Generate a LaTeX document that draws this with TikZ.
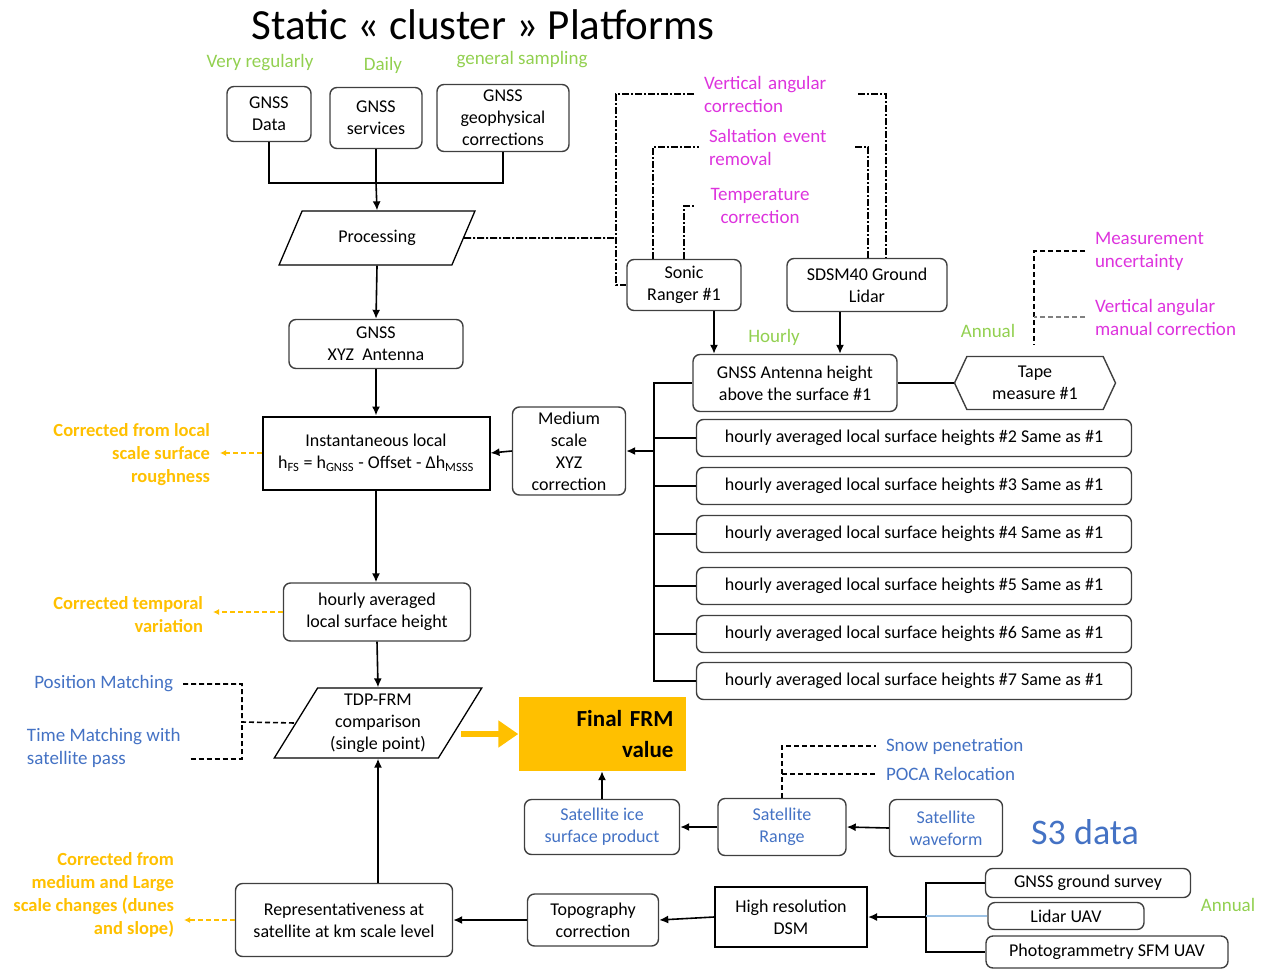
\documentclass[tikz,border=0pt]{standalone}
\usepackage{fontspec}
\setmainfont{Carlito}
\usepackage{xcolor}
\usepackage{tikz}
\usetikzlibrary{positioning,shapes.geometric,shapes.symbols,arrows.meta}
\definecolor{greenish}{HTML}{92D050}
\definecolor{pinkish}{HTML}{DD33DD}
\definecolor{bluish}{HTML}{4472C4}
\definecolor{orangish}{HTML}{FFC000}
\definecolor{greyish}{HTML}{3F3F3F}
\definecolor{lightbluish}{HTML}{9DC3E6}

\begin{document}
\begin{tikzpicture}[
   x=1pt, y=-1pt,
   >={Latex[length=9pt,width=8pt]},
   every node/.append style={align=center, font=\fontsize{18}{22}\selectfont},
   box/.style={draw=greyish, line width=1.4pt, rounded corners=7pt, inner sep=1pt},
   plainbox/.style={draw=black, line width=2pt, inner sep=1pt},
   slant/.style={draw=black, line width=1.3pt, trapezium, trapezium stretches=true, inner sep=1pt},
   hexa/.style={draw=greyish, line width=1.4pt, signal, signal to=east and west, signal pointer angle=130},
   link/.style={line width=1.6pt},
   dashdot/.style={line width=1.6pt, dash pattern=on 7pt off 2pt on 2pt off 2pt},
   dashline/.style={line width=1.6pt, dash pattern=on 5pt off 3pt},
   warn/.style={-{Latex[length=6pt,width=6pt]}},
   freq/.style={text=greenish, font=\fontsize{19}{23}\selectfont},
   corr/.style={text=pinkish, font=\fontsize{19}{23}\selectfont, align=left, inner xsep=4pt, outer xsep=6pt},
   match/.style={text=bluish, font=\fontsize{19}{23}\selectfont, align=left, inner xsep=4pt, outer xsep=6pt},
   fixnote/.style={text=orangish, font=\bfseries\fontsize{18.5}{23}\selectfont, align=right, inner xsep=4pt, outer xsep=6pt}
]
\useasboundingbox (0,0) rectangle (1265,969);

\node[font=\fontsize{43}{50}\selectfont, inner sep=0pt] (title) at (483,25) {Static « cluster » Platforms};

\node[freq] (vreg) at (260,63) {Very regularly};
\node[freq] (daily) at (383,65) {Daily};
\node[freq] (gsamp) at (522,60) {general sampling};

\node[box, minimum width=84pt, minimum height=55pt] (gdata) at (269,114) {GNSS\\Data};
\node[box, minimum width=92pt, minimum height=61pt] (gserv) at (376,118) {GNSS\\services};
\node[box, minimum width=132pt, minimum height=67pt] (gcorr) at (503,118) {GNSS\\geophysical\\corrections};
\coordinate (topjoin) at (376,183);

\node[slant, trapezium left angle=55, trapezium right angle=125, minimum width=196pt, minimum height=54pt] (proc) at (377,238) {Processing};
\node[box, minimum width=174pt, minimum height=49pt] (xyz) at (376,344) {GNSS\\XYZ~ Antenna};
\node[plainbox, minimum width=227pt, minimum height=73pt] (inst) at (376,453)
  {Instantaneous local\\h\textsubscript{FS} = h\textsubscript{GNSS} - Offset - Δh\textsubscript{MSSS}};
\node[box, minimum width=113pt, minimum height=88pt] (medium) at (569,451) {Medium\\scale\\XYZ\\correction};
\node[box, minimum width=187pt, minimum height=58pt] (hourly) at (377,612) {hourly averaged\\local surface height};
\node[slant, trapezium left angle=60, trapezium right angle=120, minimum width=208pt, minimum height=70pt] (tdp) at (378,723)
  {TDP-FRM\\comparison\\(single point)};
\node[fill=orangish, minimum width=167pt, minimum height=74pt, inner xsep=12pt, text width=143pt, align=right,
  font=\bfseries\fontsize{23}{31}\selectfont] (final) at (602,734) {Final FRM\\value};

\node[fixnote, anchor=east] (cfl) at (220,455) {Corrected from local\\scale surface\\roughness};
\node[fixnote, anchor=east] (ctv) at (213,615) {Corrected temporal\\variation};
\node[fixnote, anchor=east] (cfm) at (184,895) {Corrected from\\medium and Large\\scale changes (dunes\\and slope)};

\node[match, anchor=east] (pm) at (183,684) {Position Matching};
\node[match, anchor=west] (tms) at (17,748) {Time Matching with\\satellite pass};
\coordinate (matchbar) at (242,722);

\node[box, minimum width=114pt, minimum height=51pt] (sonic) at (684,285) {Sonic\\Ranger \#1};
\node[box, minimum width=160pt, minimum height=53pt] (sdsm) at (867,285) {SDSM40 Ground\\Lidar};
\node[corr, anchor=west, text width=144pt] (vac) at (694,94) {Vertical angular\\correction};
\node[corr, anchor=west, text width=136pt] (ser) at (699,147) {Saltation event\\removal};
\node[corr, text width=112pt, align=center] (tc) at (760,206) {Temperature\\correction};
\coordinate (procbar) at (616,238);

\node[freq] (hly) at (774,337) {Hourly};
\node[freq] (ann) at (988,331) {Annual};
\node[box, minimum width=204pt, minimum height=57pt] (ant) at (795,383) {GNSS Antenna height\\above the surface \#1};
\node[hexa, minimum width=161pt, minimum height=53pt] (tape) at (1035,383) {Tape\\measure \#1};
\node[corr, anchor=west] (mu) at (1085,251) {Measurement\\uncertainty};
\node[corr, anchor=west] (vam) at (1085,317) {Vertical angular\\manual correction};
\coordinate (tapemark) at (1034,345);

\node[box, minimum width=435pt, minimum height=37pt] (h2) at (914,438) {hourly averaged local surface heights \#2 Same as \#1};
\node[box, minimum width=435pt, minimum height=37pt] (h3) at (914,486) {hourly averaged local surface heights \#3 Same as \#1};
\node[box, minimum width=435pt, minimum height=37pt] (h4) at (914,534) {hourly averaged local surface heights \#4 Same as \#1};
\node[box, minimum width=435pt, minimum height=37pt] (h5) at (914,586) {hourly averaged local surface heights \#5 Same as \#1};
\node[box, minimum width=435pt, minimum height=37pt] (h6) at (914,634) {hourly averaged local surface heights \#6 Same as \#1};
\node[box, minimum width=435pt, minimum height=37pt] (h7) at (914,681) {hourly averaged local surface heights \#7 Same as \#1};
\coordinate (trunk) at (654,681);

\node[box, text=bluish, minimum width=155pt, minimum height=55pt] (sice) at (602,827) {Satellite ice\\surface product};
\node[box, text=bluish, minimum width=128pt, minimum height=57pt] (srange) at (782,827) {Satellite\\Range};
\node[box, text=bluish, minimum width=113pt, minimum height=57pt] (swave) at (946,828) {Satellite\\waveform};
\node[text=bluish, font=\fontsize{36}{40}\selectfont] (s3) at (1085,832) {S3 data};
\node[match, anchor=west] (snow) at (876,746) {Snow penetration};
\node[match, anchor=west] (poca) at (876,774) {POCA Relocation};

\node[box, minimum width=217pt, minimum height=73pt] (repr) at (344,920) {Representativeness at\\satellite at km scale level};
\node[box, minimum width=131pt, minimum height=52pt] (topo) at (593,920) {Topography\\correction};
\node[plainbox, minimum width=152pt, minimum height=60pt] (dsm) at (791,917) {High resolution\\DSM};
\node[box, minimum width=205pt, minimum height=29pt] (gsurvey) at (1088,883) {GNSS ground survey};
\node[box, minimum width=156pt, minimum height=27pt] (lidar) at (1066,916) {Lidar UAV};
\node[box, minimum width=242pt, minimum height=32pt] (photo) at (1107,952) {Photogrammetry SFM UAV};
\node[freq] (ann2) at (1228,905) {Annual};
\coordinate (dsmbar) at (926,917);

\draw[link] (gdata.south) |- (topjoin) -| (gcorr.south);
\draw[link] (gserv.south) -- (topjoin);
\draw[link,->] (topjoin) -- (proc.north);
\draw[link,->] (proc.south) -- (xyz.north);
\draw[link,->] (xyz.south) -- (inst.north);
\draw[link,->] (medium.west) -- (inst.east);
\draw[link,->] (inst.south) -- (inst.south |- hourly.north);
\draw[link,->] (hourly.south) -- (tdp.north);
\draw[link,->] (tdp.south |- repr.north) -- (tdp.south);
\draw[orangish, line width=6pt, -{Triangle[length=20pt,width=26pt]}] (tdp.east |- final.west) -- (final.west);
\draw[link,->] (sice.north) -- (final.south);
\draw[link,->] (srange.west) -- (sice.east);
\draw[link,->] (swave.west) -- (srange.east);
\draw[link,->] (topo.west) -- (repr.east);
\draw[link,->] (dsm.west) -- (topo.east);
\draw[link] (gsurvey.west) -| (dsmbar) |- (photo.west);
\draw[lightbluish, line width=1.6pt] (lidar.west) -- (lidar.west -| dsmbar);
\draw[link,->] (dsmbar) -- (dsm.east);

\draw[link,->] ([xshift=30pt]sonic.south) -- ([xshift=-81pt]ant.north);
\draw[link,->] ([xshift=-27pt]sdsm.south) -- ([xshift=45pt]ant.north);
\draw[link] (ant.east) -- (tape.west);
\draw[link] (ant.west) -| (trunk) -- (h7.west);
\draw[link] (h2.west) -- (h2.west -| trunk);
\draw[link] (h3.west) -- (h3.west -| trunk);
\draw[link] (h4.west) -- (h4.west -| trunk);
\draw[link] (h5.west) -- (h5.west -| trunk);
\draw[link] (h6.west) -- (h6.west -| trunk);
\draw[link,->] (medium.east -| trunk) -- (medium.east);

\draw[dashdot] (proc.east) -- (procbar);
\draw[dashdot] (vac.west) -| (procbar) |- (sonic.west);
\draw[dashdot] (vac.east) -| ([xshift=19pt]sdsm.north);
\draw[dashdot] ([xshift=-31pt]sonic.north) |- (ser.west);
\draw[dashdot] (ser.east) -| ([xshift=1pt]sdsm.north);
\draw[dashdot] (sonic.north) |- (tc.west);

\draw[dashline] (mu.west) -| (tapemark);
\draw[dashline, gray] (vam.west) -- (vam.west -| tapemark);

\draw[dashline] (pm.east) -| (matchbar) -- (tdp.west);
\draw[dashline] ([yshift=-11pt]tms.east) -| (matchbar);

\draw[dashline] (srange.north) |- (snow.west);
\draw[dashline] (srange.north) |- (poca.west);

\draw[dashline, orangish, warn] (inst.west) -- (inst.west -| cfl.east);
\draw[dashline, orangish, warn] (hourly.west) -- (hourly.west -| ctv.east);
\draw[dashline, orangish, warn] (repr.west) -- (repr.west -| cfm.east);
\end{tikzpicture}
\end{document}
